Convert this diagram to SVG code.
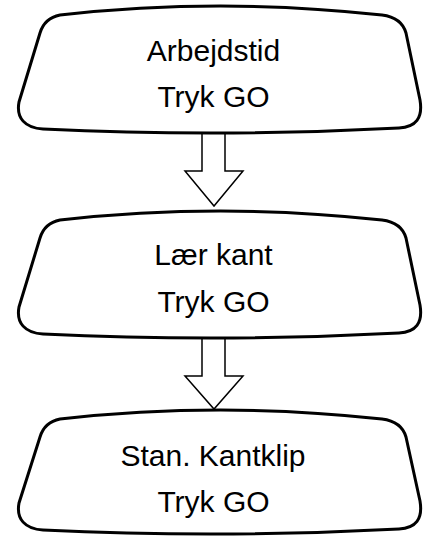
<svg xmlns="http://www.w3.org/2000/svg" width="429" height="537" viewBox="0 0 429 537">
  <style>
    .node { fill: #ffffff; stroke: #000000; stroke-width: 3; stroke-linejoin: round; }
    .arrow { fill: #ffffff; stroke: #000000; stroke-width: 1.5; stroke-linejoin: miter; }
    .label { font-family: "Liberation Sans", Arial, sans-serif; font-size: 30px; fill: #000000; text-anchor: middle; }
  </style>
  <rect width="429" height="537" fill="#ffffff"/>
  <g id="connectors">
    <path class="arrow" d="M 202,133 L 202,171 L 185,171 L 214,206 L 243,171 L 225,171 L 225,133"/>
    <path class="arrow" d="M 202,338 L 202,376 L 185,376 L 214,409 L 243,376 L 225,376 L 225,338"/>
  </g>
  <g id="node1">
    <path class="node" d="M 60,15 Q 220,-3 382,15 C 398,17 404,26 406,33 L 420,100 C 423,118 416,127 399,128 Q 220,137.5 43,129 C 25,128 16,118 19,102 L 40,33 C 43,23 50,17 60,15 Z"/>
    <text class="label" x="213.5" y="61">Arbejdstid</text>
    <text class="label" x="213.5" y="107">Tryk GO</text>
  </g>
  <g id="node2">
    <path class="node" d="M 60,220 Q 220,202 382,220 C 398,222 404,231 406,238 L 420,305 C 423,323 416,332 399,333 Q 220,342.5 43,334 C 25,333 16,323 19,307 L 40,238 C 43,228 50,222 60,220 Z"/>
    <text class="label" x="213.5" y="265">Lær kant</text>
    <text class="label" x="213.5" y="312">Tryk GO</text>
  </g>
  <g id="node3">
    <path class="node" d="M 60,419 Q 220,401 382,419 C 398,421 404,430 406,437 L 420,501 C 423,519 416,528 399,529 Q 220,538.5 43,530 C 25,529 16,519 19,503 L 40,437 C 43,427 50,421 60,419 Z"/>
    <text class="label" x="213" y="466">Stan. Kantklip</text>
    <text class="label" x="213.5" y="512">Tryk GO</text>
  </g>
</svg>
